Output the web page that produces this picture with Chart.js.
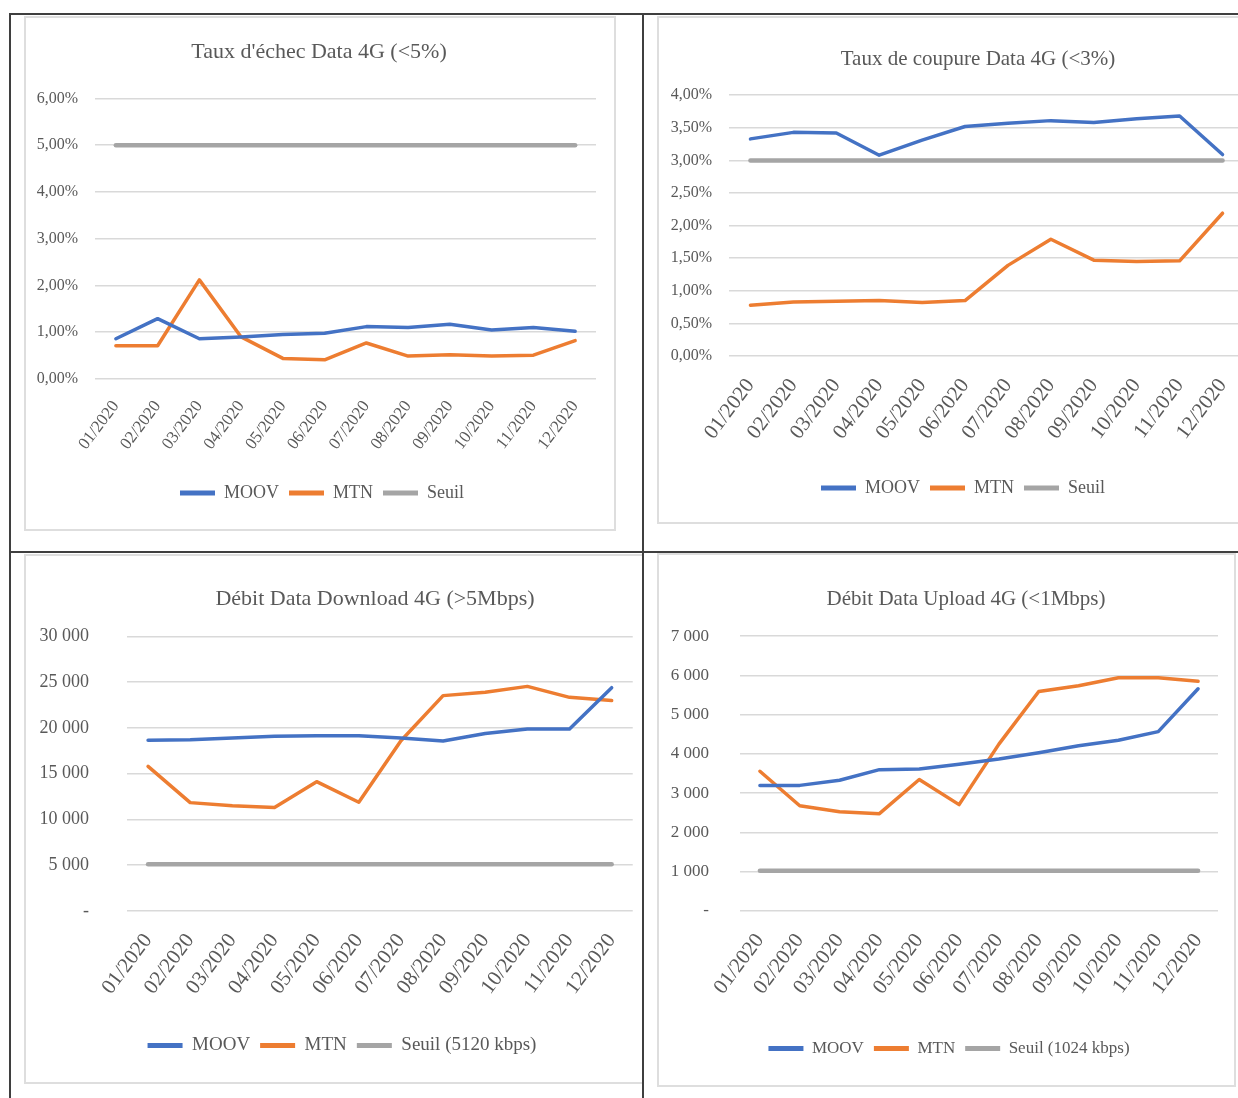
<!DOCTYPE html>
<html>
<head>
<meta charset="utf-8">
<script src="https://cdn.jsdelivr.net/npm/chart.js@4.4.0/dist/chart.umd.min.js"></script>
<style>
  body { margin: 0; width: 1238px; height: 1098px; overflow: hidden; position: relative; background: #fff; }
  .rule { position: absolute; background: #3f3f3f; }
  .box { position: absolute; box-sizing: border-box; border: 2px solid #dedede; }
  canvas { position: absolute; }
</style>
</head>
<body>
<div class="box" style="left:24px;top:16px;width:592px;height:515px"></div>
<div class="box" style="left:657px;top:16px;width:700px;height:508px"></div>
<div class="box" style="left:24px;top:554px;width:619px;height:530px;border-right:0"></div>
<div class="box" style="left:657px;top:553px;width:579px;height:534px"></div>

<canvas id="echec" width="590" height="513" style="left:25px;top:17px"></canvas>
<canvas id="coupure" width="600" height="506" style="left:658px;top:17px"></canvas>
<canvas id="download" width="617" height="528" style="left:25px;top:555px"></canvas>
<canvas id="upload" width="578" height="532" style="left:658px;top:554px"></canvas>

<div class="rule" style="left:9px;top:13px;width:1229px;height:2px"></div>
<div class="rule" style="left:9px;top:13px;width:2px;height:1085px"></div>
<div class="rule" style="left:642px;top:13px;width:2px;height:1085px"></div>
<div class="rule" style="left:9px;top:551px;width:1229px;height:2px"></div>

<script>
const months = ["01/2020", "02/2020", "03/2020", "04/2020", "05/2020", "06/2020",
                "07/2020", "08/2020", "09/2020", "10/2020", "11/2020", "12/2020"];

// Taux d'échec (%)
const echecMoov = [0.86, 1.29, 0.86, 0.90, 0.95, 0.98, 1.12, 1.10, 1.17, 1.05, 1.10, 1.02];
const echecMtn = [0.71, 0.71, 2.12, 0.90, 0.44, 0.41, 0.77, 0.49, 0.52, 0.49, 0.51, 0.82];
const echecSeuil = [5, 5, 5, 5, 5, 5, 5, 5, 5, 5, 5, 5];

// Taux de coupure (%)
const coupureMoov = [3.33, 3.43, 3.42, 3.08, 3.31, 3.52, 3.57, 3.61, 3.58, 3.64, 3.68, 3.09];
const coupureMtn = [0.78, 0.83, 0.84, 0.85, 0.82, 0.85, 1.39, 1.79, 1.47, 1.45, 1.46, 2.19];
const coupureSeuil = [3, 3, 3, 3, 3, 3, 3, 3, 3, 3, 3, 3];

// Débit download (kbps)
const downMoov = [18650, 18700, 18900, 19100, 19150, 19150, 18900, 18580, 19390, 19890, 19890, 24400];
const downMtn = [15800, 11840, 11490, 11300, 14130, 11880, 18600, 23530, 23900, 24540, 23340, 22990];
const downSeuil = [5120, 5120, 5120, 5120, 5120, 5120, 5120, 5120, 5120, 5120, 5120, 5120];

// Débit upload (kbps)
const upMoov = [3200, 3200, 3330, 3600, 3620, 3740, 3870, 4030, 4210, 4350, 4570, 5660];
const upMtn = [3560, 2680, 2530, 2480, 3350, 2710, 4250, 5590, 5740, 5940, 5940, 5850];
const upSeuil = [1024, 1024, 1024, 1024, 1024, 1024, 1024, 1024, 1024, 1024, 1024, 1024];

const BLUE = "#4472C4";
const ORANGE = "#ED7D31";
const GRAY = "#A5A5A5";
const GRID = "#d9d9d9";

Chart.defaults.font.family = "'Liberation Serif', serif";
Chart.defaults.color = "#595959";

const pct = (v) => v.toFixed(2).replace(".", ",") + "%";
const kbps = (v) => (v === 0 ? "-" : String(v).replace(/\B(?=(\d{3})+(?!\d))/g, " "));

// the source charts are cropped, so title and legend are not centred on the plot:
// put their centres where the picture has them
const centerBoxes = {
    id: "centerBoxes",
    afterLayout(chart, args, opts) {
        [[chart.titleBlock, opts.titleX], [chart.legend, opts.legendX]].forEach(([box, cx]) => {
            if (box && cx !== undefined) {
                const w = box.right - box.left;
                box.left = cx - w / 2;
                box.right = cx + w / 2;
            }
        });
    },
};

function lineChart(id, o) {
    return new Chart(document.getElementById(id), {
        type: "line",
        data: {
            labels: months,
            datasets: [
                { label: "MOOV", data: o.moov, borderColor: BLUE, backgroundColor: BLUE, borderWidth: 3.5 },
                { label: "MTN", data: o.mtn, borderColor: ORANGE, backgroundColor: ORANGE, borderWidth: 3.5 },
                { label: o.seuilLabel, data: o.seuil, borderColor: GRAY, backgroundColor: GRAY, borderWidth: 4.5 },
            ],
        },
        options: {
            responsive: false,
            animation: false,
            layout: { padding: { left: 0, right: o.padRight, top: 0, bottom: o.padBottom } },
            elements: {
                point: { radius: 0 },
                line: { tension: 0, borderCapStyle: "round", borderJoinStyle: "round" },
            },
            scales: {
                x: {
                    offset: true,
                    grid: { display: false },
                    border: { display: false },
                    ticks: {
                        minRotation: 53,
                        maxRotation: 53,
                        autoSkip: false,
                        padding: 10,
                        font: { size: o.xFont },
                    },
                    afterFit: (s) => { s.height = o.xHeight; },
                },
                y: {
                    min: 0,
                    max: o.max,
                    ticks: { stepSize: o.step, padding: o.yPad, font: { size: o.yFont }, callback: o.fmt },
                    grid: { color: GRID, lineWidth: 1.5, drawTicks: false },
                    border: { display: false },
                    afterFit: (s) => { s.width = o.yWidth; },
                },
            },
            plugins: {
                title: {
                    display: true,
                    text: o.title,
                    font: { size: o.titleFont, weight: "normal" },
                    padding: { top: o.titleTop, bottom: o.titleBottom },
                },
                legend: {
                    position: "bottom",
                    labels: {
                        boxWidth: 35,
                        boxHeight: 5,
                        padding: 10,
                        font: { size: o.legendFont },
                        generateLabels: (chart) =>
                            Chart.defaults.plugins.legend.labels.generateLabels(chart)
                                .map((l) => ({ ...l, lineWidth: 0 })),
                    },
                },
                centerBoxes: { titleX: o.titleX, legendX: o.legendX },
                tooltip: { enabled: false },
            },
        },
        plugins: [centerBoxes],
    });
}

document.addEventListener("DOMContentLoaded", function () {
    lineChart("echec", {
        title: "Taux d'échec Data 4G (<5%)",
        moov: echecMoov, mtn: echecMtn, seuil: echecSeuil, seuilLabel: "Seuil",
        max: 6, step: 1, fmt: pct,
        yWidth: 70, yPad: 17, yFont: 16, xFont: 17, xHeight: 95,
        titleFont: 22, titleTop: 22, titleBottom: 33,
        legendFont: 18, padRight: 19, padBottom: 18, titleX: 294, legendX: 297,
    });
    lineChart("coupure", {
        title: "Taux de coupure Data 4G (<3%)",
        moov: coupureMoov, mtn: coupureMtn, seuil: coupureSeuil, seuilLabel: "Seuil",
        max: 4, step: 0.5, fmt: pct,
        yWidth: 71, yPad: 17, yFont: 16, xFont: 21, xHeight: 113,
        titleFont: 21, titleTop: 30, titleBottom: 23,
        legendFont: 18, padRight: 14, padBottom: 16, titleX: 320, legendX: 305,
    });
    lineChart("download", {
        title: "Débit Data Download 4G (>5Mbps)",
        moov: downMoov, mtn: downMtn, seuil: downSeuil, seuilLabel: "Seuil (5120 kbps)",
        max: 30000, step: 5000, fmt: kbps,
        yWidth: 102, yPad: 38, yFont: 18, xFont: 21, xHeight: 115,
        titleFont: 22, titleTop: 31, titleBottom: 24,
        legendFont: 19, padRight: 5, padBottom: 18, titleX: 350, legendX: 317,
    });
    lineChart("upload", {
        title: "Débit Data Upload 4G (<1Mbps)",
        moov: upMoov, mtn: upMtn, seuil: upSeuil, seuilLabel: "Seuil (1024 kbps)",
        max: 7000, step: 1000, fmt: kbps,
        yWidth: 82, yPad: 31, yFont: 17, xFont: 21, xHeight: 119,
        titleFont: 21, titleTop: 33, titleBottom: 24,
        legendFont: 17, padRight: 18, padBottom: 19, titleX: 308, legendX: 291,
    });
});
</script>
</body>
</html>
